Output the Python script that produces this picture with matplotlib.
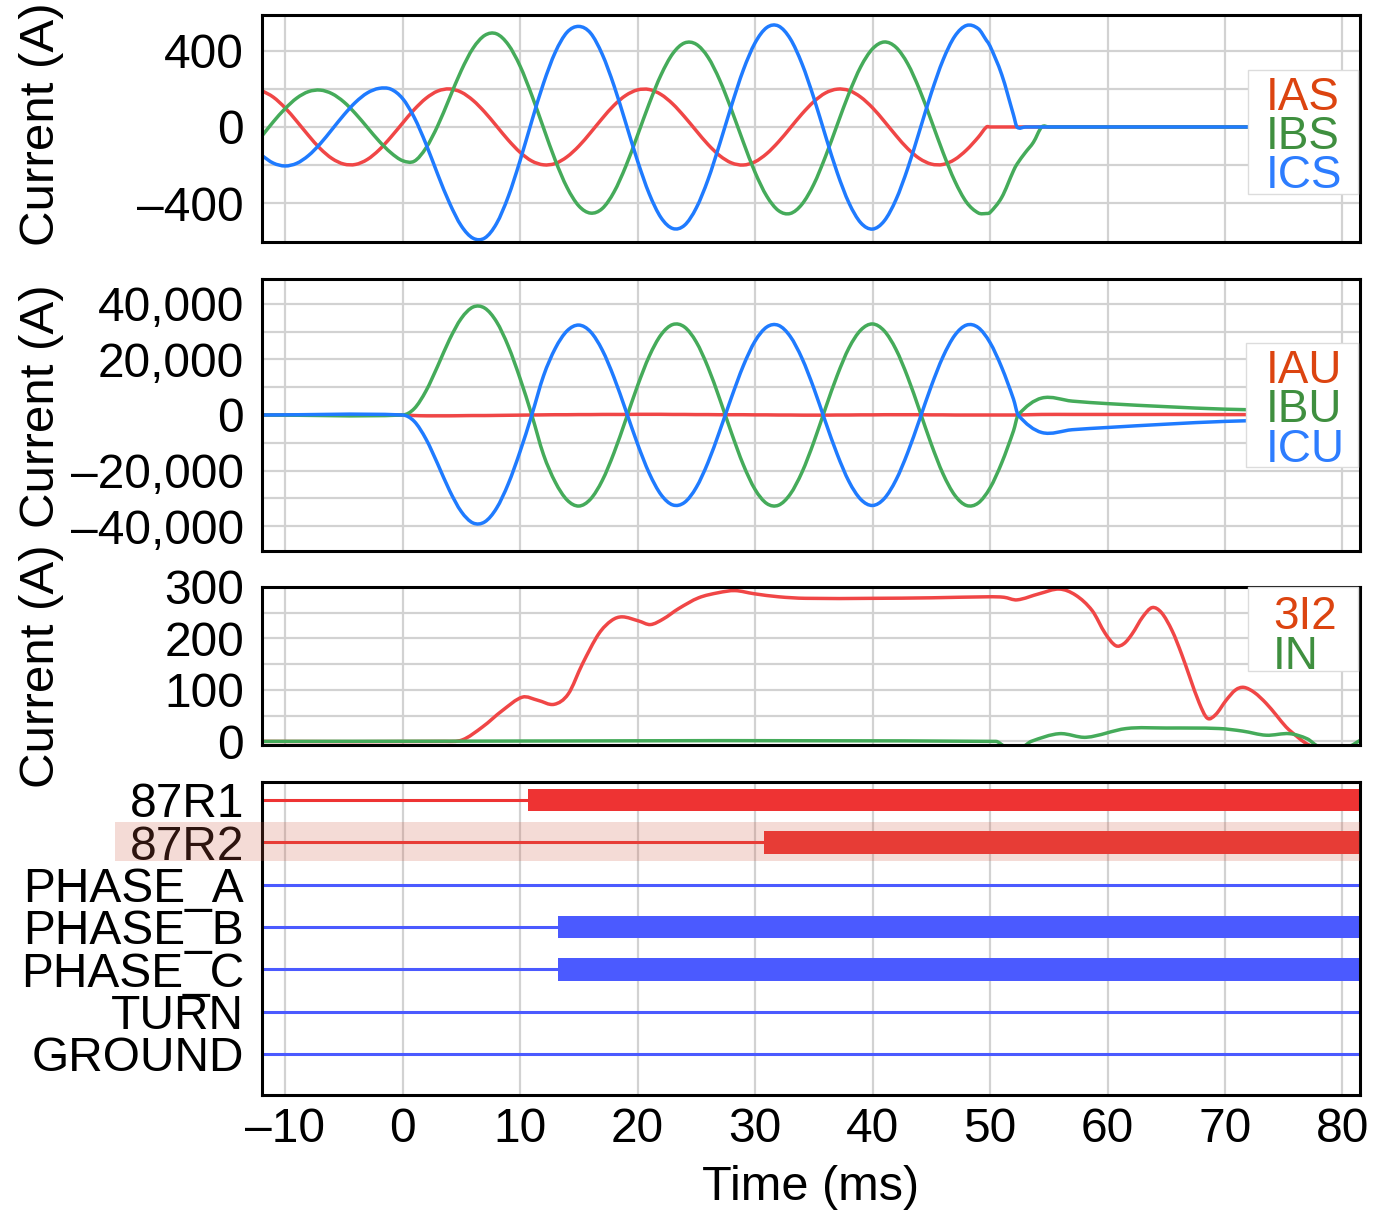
import matplotlib.pyplot as plt
from matplotlib.patches import PathPatch, Rectangle
from matplotlib.path import Path

plt.rcParams["font.family"] = ["Liberation Sans", "DejaVu Sans"]

# ---------------- data ----------------
# panel 1: filtered secondary currents (A)
T1_MS = list(range(-12, 50)) + [49.7, 50, 51, 52, 52.3, 53, 53.7, 54.4, 55, 82]
IAS = [192, 157, 101, 30, -45, -114, -166, -195, -197, -171, -121, -54,
       20, 92, 151, 189, 200, 183, 140, 78, 5, -69, -133, -179, -199, -192,
       -157, -101, -30, 45, 114, 166, 195, 197, 171, 121, 54, -20, -92, -151,
       -189, -200, -183, -140, -78, -5, 69, 133, 179, 199, 192, 157, 101, 30,
       -45, -114, -166, -195, -197, -171, -121, -54,
       0, 0, 0, 0, 0, 0, 0, 0, 0, 0]
IBS = [-50, 27, 96, 152, 186, 194, 175, 132, 70, -2, -74, -135,
       -177, -180, -110, 7, 152, 297, 414, 482, 490, 433, 321, 167, -5, -175,
       -318, -415, -453, -429, -342, -207, -44, 124, 274, 386, 442, 435, 367,
       246, 90, -79, -238, -364, -440, -455, -406, -302, -155, 12, 177, 317,
       411, 447, 419, 332, 197, 34, -134, -284, -396, -452,
       -455, -450, -370, -230, -195, -135, -80, 0, 0, 0]
ICS = [-149, -190, -205, -191, -150, -88, -13, 63, 130, 179, 203, 199,
       150, 50, -90, -250, -400, -520, -585, -584, -508, -366, -178, 31, 230,
       393, 498, 529, 494, 382, 217, 21, -178, -352, -477, -534, -517, -426,
       -277, -88, 113, 299, 442, 523, 531, 464, 332, 154, -47, -241, -400,
       -504, -537, -494, -382, -217, -21, 178, 352, 477, 534, 517,
       455, 426, 275, 63, 0, 0, 0, 0, 0, 0]

# panel 2: unfiltered currents (A)
T2_MS = [-12] + list(range(0, 53)) + [52.4, 54.4, 57, 60, 65, 70, 75, 82]
IAU = [0, 0, -200, -300, -300, -300, -250, -200, -200, -150, -100, -50,
       0, 50, 100, 100, 150, 150, 200, 200, 200, 250, 250, 250, 200, 200,
       150, 150, 100, 100, 100, 50, 50, 0, 0, -50, -50, -50, 0, 0, 50, 50,
       100, 100, 100, 100, 50, 50, 0, 0, 0, 0, 0, 0,
       0, 200, 200, 200, 200, 150, 150, 150]
IBU = [0, 0, 2300, 8700, 17700, 27200, 34800, 38900, 38500, 33600, 24800,
       13200, 0, -14300, -24200, -30600, -32800, -30300, -23600, -13600,
       -1700, 10500, 21200, 28900, 32600, 31700, 26300, 17200, 5700, -6500,
       -17900, -26800, -31900, -32500, -28500, -20600, -9800, 2500, 14300,
       24200, 30600, 32800, 30300, 23600, 13600, 1700, -10500, -21200,
       -28900, -32600, -31700, -26300, -17200, -5700,
       0, 6100, 5000, 4100, 3000, 2100, 1700, 1300]
ICU = [0, 0, -2300, -8700, -17700, -27200, -34800, -38900, -38500, -33600,
       -24800, -13200, 0, 14100, 24000, 30300, 32400, 30000, 23400, 13500,
       1700, -10400, -21000, -28700, -32400, -31500, -26100, -17100, -5700,
       6400, 17700, 26600, 31700, 32300, 28300, 20400, 9700, -2500, -14200,
       -24000, -30400, -32600, -30100, -23400, -13500, -1700, 10400, 21000,
       28700, 32400, 31500, 26100, 17100, 5700,
       0, -6300, -5300, -4500, -3300, -2300, -1800, -1300]

# panel 3: negative-sequence and neutral current (A)
T_3I2 = [-12, 3.6, 5.1, 6.8, 8.5, 10.2, 11.5, 12.9, 14.1, 15.3, 16.7, 17.8,
         18.7, 20.1, 21.1, 22.2, 23.5, 25.2, 26.9, 28.3, 29.9, 32, 34.3, 40,
         45, 49.9, 51.2, 52.3, 54.2, 55.9, 57.3, 58.7, 59.8, 60.7, 61.4,
         62.1, 63.0, 63.8, 64.6, 65.5, 66.3, 67.0, 67.8, 68.5, 69.2, 70.1,
         70.9, 71.6, 72.5, 73.5, 74.4, 75.2, 76.1, 76.9, 77.5]
I_3I2 = [0, 0, 3, 28, 60, 86, 80, 72, 92, 150, 209, 235, 242, 234, 227, 238,
         258, 279, 289, 293, 287, 281, 278, 278, 279, 281, 280, 275, 287, 296,
         284, 254, 210, 186, 190, 209, 242, 260, 250, 215, 170, 125, 75, 45,
         52, 80, 100, 105, 95, 74, 50, 28, 10, -4, -10]
T_IN = [-12, 50.5, 51.3, 52.8, 53.5, 55.9, 58.2, 61.6, 65, 69.5, 71.5, 73.5,
        75.5, 77, 78, 80.5, 81.5]
I_IN = [0, 0, -10, -10, 0, 15, 8, 25, 26, 25, 20, 12, 15, 5, -10, -10, 2]

# panel 4: digital elements, pickup time in ms (None = never asserted)
DIGITAL_LABELS = ["87R1", "87R2", "PHASE_A", "PHASE_B", "PHASE_C", "TURN", "GROUND"]
DIGITAL_ON_MS = [10.7, 30.8, None, 13.2, 13.2, None, None]

X_TICKS = list(range(-10, 81, 10))

# ---------------- style ----------------
RED, GREEN, BLUE = "#f04646", "#45ab5a", "#1f7bff"
LEG_RED, LEG_GREEN, LEG_BLUE = "#dc4410", "#3f8f3f", "#2d7dff"
DIG_RED, DIG_BLUE = "#ee3333", "#4b5aff"
GRID = "#d2d2d2"
XMIN, XMAX = -11.96, 81.49
FS = 34.5
W_PX, H_PX = 1386, 1213


def px_axes(fig, top, bottom):
    return fig.add_axes([262 / W_PX, 1 - bottom / H_PX, 1098 / W_PX, (bottom - top) / H_PX])


def style_axes(ax, show_x=False):
    ax.set_xlim(XMIN, XMAX)
    ax.set_xticks(X_TICKS)
    ax.set_xticklabels([f"{v}".replace("-", "\u2013") for v in X_TICKS])
    ax.grid(True, color=GRID, linewidth=1.6)
    ax.set_axisbelow(True)
    ax.tick_params(length=0, labelsize=FS, pad=13)
    ax.tick_params(axis="x", labelbottom=show_x, pad=9)
    for sp in ax.spines.values():
        sp.set_linewidth(2.2)
        sp.set_color("black")


def smooth_line(ax, x, y, color):
    # cubic Hermite curve through the read points (like the chart's curved lines)
    n = len(x)
    slopes = []
    for i in range(n):
        a = max(i - 1, 0)
        b = min(i + 1, n - 1)
        slopes.append((y[b] - y[a]) / (x[b] - x[a]))
    verts = [(x[0], y[0])]
    codes = [Path.MOVETO]
    for i in range(n - 1):
        h = x[i + 1] - x[i]
        verts += [(x[i] + h / 3, y[i] + slopes[i] * h / 3),
                  (x[i + 1] - h / 3, y[i + 1] - slopes[i + 1] * h / 3),
                  (x[i + 1], y[i + 1])]
        codes += [Path.CURVE4] * 3
    patch = PathPatch(Path(verts, codes), facecolor="none", edgecolor=color,
                      lw=2.5, capstyle="round", joinstyle="round")
    ax.add_patch(patch)
    return patch


def legend_box(fig, box, entries, text_left):
    # box = (left, top, right, bottom) in pixels; entries = (label, color, y_center)
    l, t, r, b = box
    fig.add_artist(Rectangle((l / W_PX, 1 - b / H_PX), (r - l) / W_PX, (b - t) / H_PX,
                             transform=fig.transFigure, facecolor="white",
                             edgecolor="#dcdcdc", lw=1.0, zorder=4))
    for label, color, yc in entries:
        fig.text(text_left / W_PX, 1 - yc / H_PX, label, color=color, fontsize=33,
                 ha="left", va="center_baseline", zorder=4.5)


def y_labels(values, keep):
    return [f"{v:,}".replace("-", "\u2013") if v in keep else "" for v in values]


fig = plt.figure(figsize=(W_PX / 100, H_PX / 100), dpi=100)

# panel 1
ax1 = px_axes(fig, 15, 242)
style_axes(ax1)
for series, c in ((IAS, RED), (IBS, GREEN), (ICS, BLUE)):
    smooth_line(ax1, T1_MS, series, c)
ax1.set_ylim(-605, 589)
ticks1 = [-400, -200, 0, 200, 400]
ax1.set_yticks(ticks1)
ax1.set_yticklabels(y_labels(ticks1, [-400, 0, 400]))
legend_box(fig, (1248, 70, 1358, 194),
           [("IAS", LEG_RED, 93), ("IBS", LEG_GREEN, 132), ("ICS", LEG_BLUE, 171)], 1266)

# panel 2
ax2 = px_axes(fig, 279, 551)
style_axes(ax2)
for series, c in ((IAU, RED), (IBU, GREEN), (ICU, BLUE)):
    smooth_line(ax2, T2_MS, series, c)
ax2.set_ylim(-49000, 49000)
ticks2 = list(range(-40000, 40001, 10000))
ax2.set_yticks(ticks2)
ax2.set_yticklabels(y_labels(ticks2, [-40000, -20000, 0, 20000, 40000]))
legend_box(fig, (1246, 343, 1358, 467),
           [("IAU", LEG_RED, 366), ("IBU", LEG_GREEN, 405), ("ICU", LEG_BLUE, 445)], 1266)

# panel 3
ax3 = px_axes(fig, 587, 745)
style_axes(ax3)
smooth_line(ax3, T_3I2, I_3I2, RED)
smooth_line(ax3, T_IN, I_IN, GREEN)
ax3.set_ylim(-7, 300)
ticks3 = list(range(0, 301, 50))
ax3.set_yticks(ticks3)
ax3.set_yticklabels(y_labels(ticks3, [0, 100, 200, 300]))
legend_box(fig, (1248, 587, 1358, 671),
           [("3I2", LEG_RED, 612), ("IN", LEG_GREEN, 652)], 1273)

# panel 4: digital channels
ax4 = px_axes(fig, 782, 1095)
style_axes(ax4, show_x=True)
ax4.grid(False, axis="y")
rows = list(range(len(DIGITAL_LABELS)))
for row, label, on in zip(rows, DIGITAL_LABELS, DIGITAL_ON_MS):
    c = DIG_RED if label.startswith("87") else DIG_BLUE
    ax4.hlines(row, XMIN, XMAX, color=c, lw=2.2)
    if on is not None:
        ax4.barh(row, XMAX - on, left=on, height=0.54, color=c)
ax4.set_ylim(6.97, -0.425)
ax4.set_yticks(rows)
ax4.set_yticklabels(DIGITAL_LABELS)

# axis titles
for yc in (124, 406, 666):
    fig.text(42 / W_PX, 1 - yc / H_PX, "Current (A)", rotation=90,
             ha="center", va="center", fontsize=35.5)
fig.text(811 / W_PX, 1 - 1188 / H_PX, "Time (ms)", ha="center", va="center", fontsize=35)

# highlighted 87R2 row
fig.add_artist(Rectangle((115 / W_PX, 1 - 861 / H_PX), (1360 - 115) / W_PX, 39 / H_PX,
                         transform=fig.transFigure, facecolor="#d05d45", alpha=0.22,
                         edgecolor="none", zorder=5))

fig.savefig("out.png", dpi=100)
